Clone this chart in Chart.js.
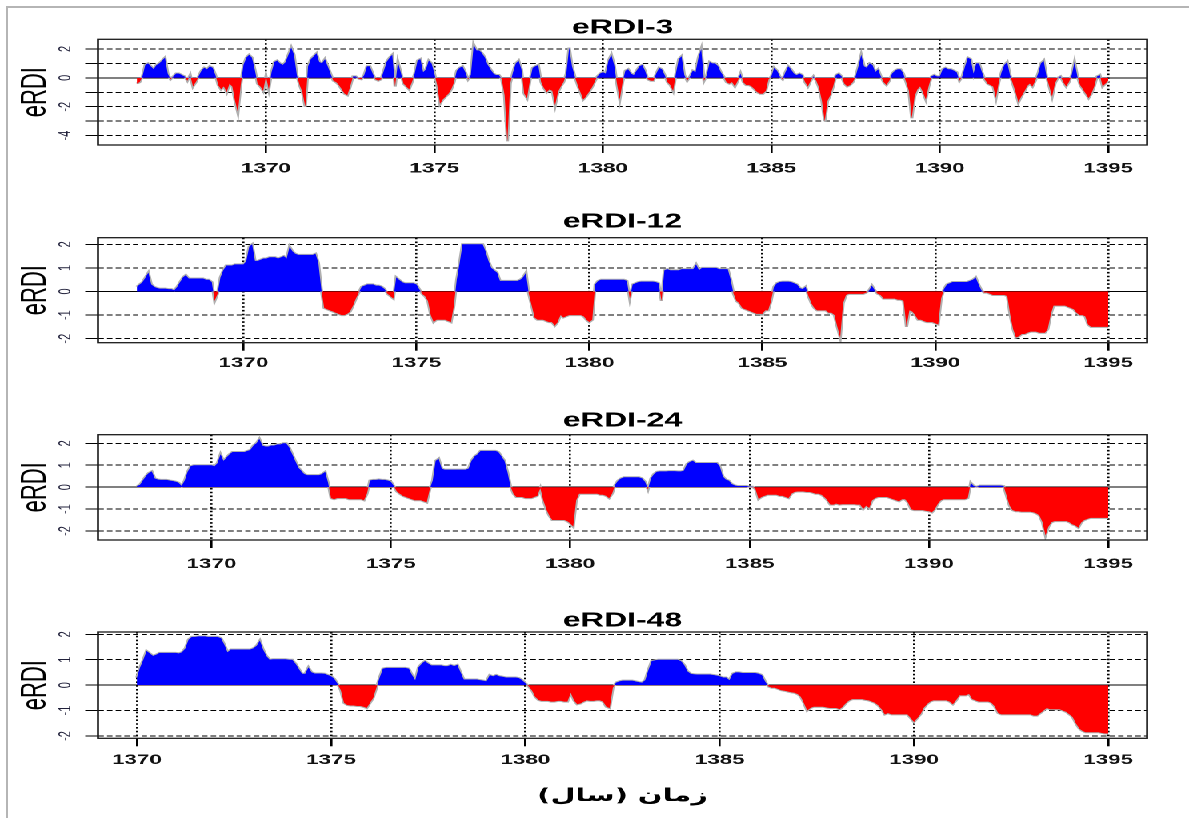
<!DOCTYPE html>
<html>
<head>
<meta charset="utf-8">
<title>eRDI</title>
<script src="https://cdn.jsdelivr.net/npm/chart.js@4.4.1/dist/chart.umd.min.js"></script>
<style>
  html, body { margin: 0; padding: 0; background: #fff; }
  body { width: 1189px; height: 818px; position: relative; overflow: hidden; }
  #frame { position: absolute; left: 6px; top: 6px; width: 1300px; height: 900px;
           border-left: 2px solid #b5b5b5; border-top: 2px solid #b5b5b5; }
  #sheet { position: absolute; left: 0; top: 0; width: 743px; height: 818px; transform-origin: 0 0; }
  #sheet canvas { position: absolute; left: 0; }
</style>
</head>
<body>
<div id="frame"></div>
<div id="sheet"></div>
<script>
// panel titles, axis texts, ticks
const titles = ['eRDI-3', 'eRDI-12', 'eRDI-24', 'eRDI-48'];
const yTitle = 'eRDI';
const xTitle = 'زمان (سال)';
const yearTicks = [1370, 1375, 1380, 1385, 1390, 1395];
const yTicks3 = [-4, -3, -2, -1, 0, 1, 2];
const yLabels3 = ['-4', '', '-2', '', '0', '', '2'];
const yTicks = [-2, -1, 0, 1, 2];
const yLabels = ['-2', '-1', '0', '1', '2'];

// monthly series, first month of each
const start3 = 1366 + 2 / 12;
const start12 = 1366 + 11 / 12;
const start24 = 1367 + 11 / 12;
const start48 = 1370;

const erdi3 = [
  -0.4,-0.3,0.1,0.9,1.0,0.8,0.6,0.9,1.0,1.2,1.4,0.3,
  -0.1,0.1,0.3,0.3,0.2,0.1,-0.2,0.2,-0.6,-0.3,0.1,0.5,
  0.7,0.6,0.8,0.7,0.2,-0.5,-0.8,-0.6,-1.0,-0.4,-0.6,-1.6,
  -2.4,-0.5,0.9,1.4,1.6,1.4,0.6,-0.4,-0.6,-0.9,0.1,-0.8,
  0.4,1.1,1.2,1.0,0.9,1.1,1.6,2.1,1.6,0.2,-0.5,-1.0,
  -2.0,0.8,1.3,1.5,1.7,1.1,1.0,1.3,0.8,0.3,-0.2,-0.3,
  -0.5,-0.8,-1.1,-1.2,-0.6,0.1,0.1,-0.05,-0.1,0.2,0.8,0.8,
  0.3,-0.1,-0.2,-0.1,0.5,1.1,1.4,1.6,-0.6,1.1,0.4,-0.4,
  -0.6,-0.8,-0.3,0.3,1.2,1.3,0.4,0.6,1.2,1.0,0.3,-0.5,
  -1.8,-1.5,-1.3,-1.1,-0.8,-0.3,0.5,0.7,0.8,0.4,-0.1,0.2,
  2.3,1.9,1.9,1.7,1.4,0.9,0.6,0.3,0.2,0.2,-0.1,-1.2,
  -4.4,-0.4,0.4,1.0,1.2,0.6,-1.1,-1.4,-0.2,0.7,0.8,0.9,
  -0.3,-0.7,-1.0,-0.8,-0.9,-1.9,-1.0,-0.6,-0.3,0.3,2.1,0.8,
  0.1,-0.5,-1.0,-1.5,-1.3,-1.0,-0.7,-0.3,0.1,0.3,0.4,0.3,
  1.2,1.6,0.9,-0.4,-1.5,-0.3,0.5,0.6,0.3,0.2,0.5,0.8,
  0.9,0.5,-0.1,-0.2,-0.2,0.3,0.7,0.6,0.2,-0.3,-0.5,-0.9,
  0.3,1.3,1.5,0.2,-0.2,0.1,0.5,0.4,1.4,2.0,-0.2,0.2,
  1.1,1.0,1.0,0.8,0.4,0.1,-0.3,-0.4,-0.3,-0.6,-0.2,0.3,
  -0.3,-0.5,-0.5,-0.6,-0.8,-1.0,-1.1,-1.1,-0.9,-0.1,0.1,0.7,
  0.5,0.1,-0.1,0.4,0.8,0.6,0.3,0.2,0.3,0.2,-0.3,-0.6,
  -0.2,0.1,-0.2,-0.7,-1.6,-3.0,-1.6,-1.2,-0.6,0.2,0.3,0.1,
  -0.4,-0.6,-0.5,-0.3,0.1,0.8,1.6,0.8,0.7,1.0,0.9,0.4,
  0.6,0.1,-0.3,-0.5,-0.2,0.3,0.5,0.6,0.6,0.3,-0.3,-0.9,
  -2.8,-1.3,-0.8,-0.6,-1.0,-1.5,-0.6,0.1,0.2,0.1,0.1,0.6,
  0.7,0.6,0.6,0.5,0.4,-0.2,0.1,0.8,1.4,1.3,0.3,1.0,
  1.0,0.4,-0.1,-0.4,-0.5,-0.6,-1.4,-0.3,0.4,0.9,1.1,0.2,
  -0.4,-1.0,-1.7,-1.3,-1.0,-0.6,-0.4,-0.6,-0.2,0.3,1.0,1.2,
  0.1,-0.6,-1.3,-0.4,0.0,0.1,-0.3,-0.6,-0.3,0.2,1.1,0.1,
  -0.5,-0.8,-1.1,-1.4,-1.1,-0.6,0.1,0.2,-0.6,-0.4,-0.2
];

const erdi12 = [
  0.2,0.3,0.4,0.6,0.8,0.3,0.2,0.15,0.12,0.12,0.12,0.1,
  0.1,0.05,0.2,0.4,0.6,0.7,0.55,0.55,0.55,0.55,0.55,0.55,
  0.5,0.5,0.4,-0.4,-0.1,0.6,0.9,1.1,1.1,1.1,1.15,1.15,
  1.15,1.15,1.3,1.9,2.0,1.3,1.3,1.35,1.4,1.4,1.45,1.45,
  1.45,1.4,1.45,1.5,1.4,1.9,1.7,1.6,1.55,1.55,1.55,1.55,
  1.55,1.55,1.6,1.2,0.1,-0.7,-0.75,-0.8,-0.85,-0.9,-0.95,-1.0,
  -1.0,-0.95,-0.85,-0.6,-0.3,-0.05,0.2,0.25,0.3,0.3,0.3,0.25,
  0.25,0.2,0.1,-0.1,-0.2,-0.3,0.6,0.5,0.4,0.35,0.35,0.35,
  0.35,0.3,0.1,-0.1,-0.2,-0.4,-1.0,-1.3,-1.2,-1.2,-1.2,-1.2,
  -1.25,-1.3,-0.6,0.5,1.2,2.0,2.0,2.0,2.0,2.0,2.0,2.0,
  2.0,1.7,1.3,1.0,0.9,0.8,0.45,0.45,0.45,0.45,0.45,0.45,
  0.45,0.5,0.6,0.8,-0.1,-0.6,-1.1,-1.2,-1.2,-1.2,-1.25,-1.3,
  -1.3,-1.45,-1.3,-1.0,-1.1,-1.05,-1.0,-1.0,-1.0,-1.0,-1.0,-1.05,
  -1.2,-1.3,-1.2,0.3,0.45,0.5,0.5,0.5,0.5,0.5,0.5,0.5,
  0.5,0.5,0.45,-0.3,0.3,0.35,0.4,0.42,0.42,0.42,0.42,0.42,
  0.4,0.35,-0.4,0.9,0.95,0.9,0.9,0.9,0.9,0.95,0.95,0.95,
  0.95,0.95,1.15,0.9,1.0,1.0,1.0,1.0,1.0,1.0,0.95,0.95,
  0.95,0.95,0.5,-0.1,-0.4,-0.5,-0.7,-0.75,-0.8,-0.85,-0.9,-0.95,
  -0.95,-0.95,-0.8,-0.8,-0.4,0.2,0.35,0.4,0.42,0.42,0.42,0.4,
  0.35,0.3,0.15,0.1,0.2,-0.2,-0.5,-0.7,-0.8,-0.8,-0.8,-0.8,
  -0.9,-0.9,-1.0,-1.5,-1.95,-0.5,-0.15,-0.1,-0.1,-0.1,-0.1,-0.1,
  -0.1,-0.05,0.05,0.25,0.05,-0.1,-0.15,-0.3,-0.3,-0.3,-0.3,-0.3,
  -0.35,-0.35,-0.4,-1.5,-0.8,-0.85,-1.0,-1.2,-1.2,-1.25,-1.3,-1.3,
  -1.3,-1.35,-1.4,-0.3,0.1,0.3,0.35,0.4,0.4,0.4,0.4,0.4,
  0.4,0.45,0.5,0.6,0.3,0.05,-0.05,-0.05,-0.1,-0.15,-0.15,-0.15,
  -0.15,-0.15,-0.2,-1.0,-1.6,-1.95,-1.9,-1.8,-1.8,-1.75,-1.7,-1.7,
  -1.7,-1.75,-1.75,-1.75,-1.6,-1.0,-0.6,-0.6,-0.6,-0.6,-0.6,-0.65,
  -0.7,-0.75,-0.9,-1.0,-1.0,-1.05,-1.4,-1.5,-1.5,-1.5,-1.5,-1.5,
  -1.5,-1.5
];

const erdi24 = [
  0.05,0.1,0.3,0.5,0.65,0.72,0.4,0.35,0.33,0.33,0.33,0.3,
  0.28,0.25,0.2,0.05,0.3,0.7,0.95,1.0,1.0,1.0,1.0,1.0,
  1.0,1.0,0.95,1.1,1.5,1.2,1.35,1.5,1.6,1.6,1.6,1.6,
  1.6,1.65,1.7,1.9,2.0,2.2,1.9,1.85,1.85,1.9,1.9,1.95,
  1.95,2.0,2.0,1.8,1.5,1.2,0.9,0.75,0.6,0.55,0.55,0.55,
  0.55,0.55,0.6,0.7,0.2,-0.5,-0.55,-0.5,-0.5,-0.5,-0.5,-0.55,
  -0.55,-0.55,-0.55,-0.55,-0.6,-0.3,0.3,0.33,0.33,0.35,0.33,0.33,
  0.3,0.25,0.05,-0.2,-0.3,-0.4,-0.45,-0.5,-0.55,-0.6,-0.6,-0.6,
  -0.65,-0.7,-0.1,0.3,1.2,1.3,0.85,0.8,0.8,0.8,0.8,0.8,
  0.8,0.8,0.8,0.85,1.2,1.4,1.5,1.65,1.65,1.65,1.65,1.65,
  1.65,1.6,1.4,1.2,0.7,0.05,-0.3,-0.45,-0.45,-0.45,-0.5,-0.5,
  -0.5,-0.45,-0.4,-0.05,-0.6,-1.0,-1.3,-1.5,-1.5,-1.5,-1.5,-1.5,
  -1.55,-1.65,-1.8,-0.6,-0.3,-0.3,-0.3,-0.3,-0.3,-0.3,-0.3,-0.35,
  -0.35,-0.4,-0.5,-0.3,0.1,0.3,0.4,0.45,0.45,0.45,0.45,0.45,
  0.45,0.4,0.25,-0.1,0.4,0.6,0.7,0.72,0.72,0.72,0.73,0.73,
  0.73,0.72,0.72,0.75,1.05,1.15,1.2,1.1,1.1,1.1,1.1,1.1,
  1.1,1.1,1.1,0.95,0.5,0.35,0.3,0.15,0.08,0.05,0.05,0.05,
  0.05,0.02,0.02,-0.1,-0.55,-0.45,-0.4,-0.35,-0.35,-0.35,-0.35,-0.4,
  -0.4,-0.45,-0.5,-0.3,-0.22,-0.2,-0.2,-0.2,-0.22,-0.22,-0.25,-0.3,
  -0.3,-0.35,-0.45,-0.6,-0.8,-0.8,-0.75,-0.8,-0.78,-0.78,-0.78,-0.78,
  -0.78,-0.8,-0.8,-1.0,-0.85,-0.95,-0.6,-0.5,-0.45,-0.45,-0.45,-0.45,
  -0.5,-0.55,-0.6,-0.65,-0.55,-0.55,-0.7,-1.0,-1.05,-1.05,-1.05,-1.05,
  -1.08,-1.1,-1.15,-1.0,-0.75,-0.6,-0.55,-0.55,-0.55,-0.55,-0.55,-0.55,
  -0.55,-0.55,-0.5,0.2,0.05,0.02,0.07,0.07,0.07,0.07,0.07,0.07,
  0.07,0.07,0.05,-0.4,-0.85,-1.05,-1.1,-1.1,-1.12,-1.12,-1.12,-1.12,
  -1.15,-1.2,-1.3,-1.6,-2.2,-1.8,-1.6,-1.55,-1.55,-1.55,-1.55,-1.55,
  -1.6,-1.7,-1.75,-1.85,-1.6,-1.5,-1.45,-1.4,-1.4,-1.4,-1.4,-1.4,
  -1.4,-1.4
];

const erdi48 = [
  0.3,0.7,1.0,1.35,1.25,1.15,1.2,1.27,1.27,1.27,1.27,1.27,
  1.27,1.25,1.3,1.45,1.8,1.9,1.9,1.92,1.92,1.92,1.9,1.9,
  1.9,1.9,1.85,1.6,1.3,1.4,1.4,1.4,1.4,1.4,1.4,1.4,
  1.45,1.55,1.75,1.4,1.15,1.0,1.02,1.02,1.02,1.02,1.02,1.0,
  1.0,0.85,0.65,0.45,0.45,0.7,0.5,0.46,0.46,0.46,0.45,0.4,
  0.35,0.25,0.05,-0.2,-0.7,-0.78,-0.8,-0.8,-0.82,-0.82,-0.85,-0.9,
  -0.7,-0.5,-0.1,0.3,0.65,0.68,0.68,0.68,0.68,0.68,0.68,0.68,
  0.65,0.4,0.2,0.7,0.85,0.95,0.85,0.78,0.78,0.78,0.78,0.75,
  0.75,0.8,0.75,0.8,0.5,0.22,0.22,0.22,0.22,0.22,0.2,0.18,
  0.15,0.4,0.35,0.4,0.35,0.33,0.3,0.3,0.3,0.3,0.28,0.2,
  0.08,-0.05,-0.2,-0.45,-0.58,-0.62,-0.62,-0.62,-0.65,-0.65,-0.62,-0.62,
  -0.65,-0.65,-0.3,-0.6,-0.75,-0.72,-0.65,-0.6,-0.62,-0.62,-0.6,-0.6,
  -0.65,-0.85,-0.9,-0.1,0.1,0.15,0.18,0.18,0.18,0.18,0.15,0.12,
  0.1,0.2,0.6,0.95,0.98,1.0,1.0,1.0,1.0,1.0,1.0,1.0,
  0.95,0.8,0.55,0.45,0.43,0.42,0.42,0.42,0.42,0.42,0.4,0.38,
  0.35,0.3,0.3,0.2,0.45,0.5,0.5,0.48,0.48,0.48,0.48,0.48,
  0.45,0.4,0.15,-0.05,-0.1,-0.1,-0.15,-0.2,-0.22,-0.25,-0.28,-0.3,
  -0.35,-0.45,-0.7,-1.0,-0.9,-0.85,-0.85,-0.85,-0.85,-0.88,-0.9,-0.9,
  -0.9,-0.95,-0.85,-0.7,-0.6,-0.55,-0.55,-0.55,-0.55,-0.58,-0.6,-0.65,
  -0.7,-0.8,-0.95,-1.15,-1.1,-1.15,-1.15,-1.15,-1.15,-1.15,-1.15,-1.3,
  -1.45,-1.3,-1.15,-0.9,-0.75,-0.65,-0.6,-0.6,-0.6,-0.6,-0.6,-0.65,
  -0.75,-0.6,-0.4,-0.4,-0.4,-0.35,-0.55,-0.6,-0.65,-0.65,-0.65,-0.65,
  -0.7,-0.85,-1.1,-1.15,-1.15,-1.15,-1.15,-1.15,-1.15,-1.15,-1.15,-1.15,
  -1.15,-1.2,-1.2,-1.1,-1.0,-0.9,-0.95,-0.95,-0.95,-0.95,-1.0,-1.05,
  -1.15,-1.25,-1.5,-1.7,-1.8,-1.85,-1.85,-1.85,-1.85,-1.85,-1.88,-1.9,
  -1.9
];

// the reference image is stretched sideways, so the sheet is drawn narrow and scaled
const W = 743;
const K = 1189 / W;
const sheet = document.getElementById('sheet');
sheet.style.transform = `scaleX(${K})`;

const FONT = '"Liberation Sans", Arial, Helvetica, sans-serif';
const BOX_LEFT = 61.25;
const PAD_RIGHT = 26.2;

const series = [
  { values: erdi3, start: start3, yMin: -4.65, yMax: 2.67, ticks: yTicks3, labels: yLabels3 },
  { values: erdi12, start: start12, yMin: -2.17, yMax: 2.28, ticks: yTicks, labels: yLabels },
  { values: erdi24, start: start24, yMin: -2.41, yMax: 2.39, ticks: yTicks, labels: yLabels },
  { values: erdi48, start: start48, yMin: -2.09, yMax: 2.09, ticks: yTicks, labels: yLabels }
];

const layouts = [
  { top: 0,   height: 190, titlePad: { top: 18, bottom: 1.3 },   axisH: 45,   tickPad: 7 },
  { top: 190, height: 200, titlePad: { top: 22, bottom: 5.7 },   axisH: 47.3, tickPad: 4 },
  { top: 390, height: 200, titlePad: { top: 20.8, bottom: 3.9 }, axisH: 50,   tickPad: 7.6 },
  { top: 590, height: 228, titlePad: { top: 20.8, bottom: 1.2 }, axisH: 79.7, tickPad: 5.6 }
];

// plot frame and the rotated y tick labels (R style)
const frameAndYLabels = {
  id: 'frameAndYLabels',
  afterDraw(chart) {
    const { ctx, chartArea: a } = chart;
    const y = chart.scales.y;
    ctx.save();
    ctx.strokeStyle = '#1a1a1a';
    ctx.lineWidth = 1.3;
    ctx.strokeRect(a.left, a.top, a.right - a.left, a.bottom - a.top);
    ctx.fillStyle = '#20203a';
    ctx.font = '11px ' + FONT;
    ctx.textAlign = 'center';
    ctx.textBaseline = 'middle';
    y.ticks.forEach(t => {
      if (!t.label) return;
      ctx.save();
      ctx.translate(41, y.getPixelForValue(t.value));
      ctx.rotate(-Math.PI / 2);
      ctx.fillText(t.label, 0, 0);
      ctx.restore();
    });
    ctx.restore();
  }
};

function makePanel(i) {
  const s = series[i];
  const L = layouts[i];
  const canvas = document.createElement('canvas');
  canvas.width = W;
  canvas.height = L.height;
  canvas.style.top = L.top + 'px';
  sheet.appendChild(canvas);

  const pts = s.values.map((v, k) => ({ x: s.start + k / 12, y: v }));
  const last = pts[pts.length - 1].x;
  const span = last - s.start;

  new Chart(canvas, {
    type: 'line',
    data: {
      datasets: [
        { data: pts, borderColor: '#b0b0b0', borderWidth: 2, pointRadius: 0, tension: 0, fill: false, order: 2 },
        { data: pts, borderColor: 'transparent', borderWidth: 0, pointRadius: 0, tension: 0, order: 1,
          fill: { target: 'origin', above: '#0000ff', below: '#ff0000' } }
      ]
    },
    options: {
      responsive: false,
      animation: false,
      devicePixelRatio: 2,
      layout: { padding: { left: 0, right: PAD_RIGHT, top: 0, bottom: 0 } },
      plugins: {
        legend: { display: false },
        tooltip: { enabled: false },
        title: {
          display: true, text: titles[i], fullSize: false, color: '#000',
          font: { family: FONT, size: 20, weight: 'bold', lineHeight: 1 },
          padding: L.titlePad
        }
      },
      scales: {
        x: {
          type: 'linear',
          min: s.start - 0.04 * span,
          max: last + 0.04 * span,
          afterBuildTicks: sc => { sc.ticks = yearTicks.map(v => ({ value: v })); },
          afterFit: sc => { sc.height = L.axisH; },
          ticks: {
            autoSkip: false, maxRotation: 0, minRotation: 0, padding: L.tickPad, color: '#111',
            font: { family: FONT, size: 14, weight: 'bold' },
            callback: v => String(v)
          },
          grid: { color: '#000', lineWidth: 1.3, tickLength: 8, tickBorderDash: [], borderDash: [1.6, 2.2] },
          border: { display: false, dash: [1.6, 2.2] },
          title: i === 3 ? {
            display: true, text: xTitle, color: '#000',
            font: { family: '"DejaVu Sans", sans-serif', size: 18, weight: 'bold', lineHeight: 1.2 },
            padding: { top: 0, bottom: 11 }
          } : { display: false }
        },
        y: {
          type: 'linear',
          min: s.yMin,
          max: s.yMax,
          afterBuildTicks: sc => { sc.ticks = s.ticks.map(v => ({ value: v })); },
          afterFit: sc => { sc.width = BOX_LEFT; },
          ticks: { display: false, callback: (v, k) => s.labels[k] },
          grid: { color: '#000', lineWidth: 1, tickLength: 8, tickBorderDash: [] },
          border: {
            display: false,
            dash: ctx => (ctx.tick && ctx.tick.value === 0) ? [] : [3.4, 2]
          },
          title: {
            display: true, text: yTitle, color: '#000',
            font: { family: FONT, size: 22, lineHeight: 1.2 },
            padding: { top: 9, bottom: 0 }
          }
        }
      }
    },
    plugins: [frameAndYLabels]
  });
}

for (let i = 0; i < 4; i++) makePanel(i);
</script>
</body>
</html>
